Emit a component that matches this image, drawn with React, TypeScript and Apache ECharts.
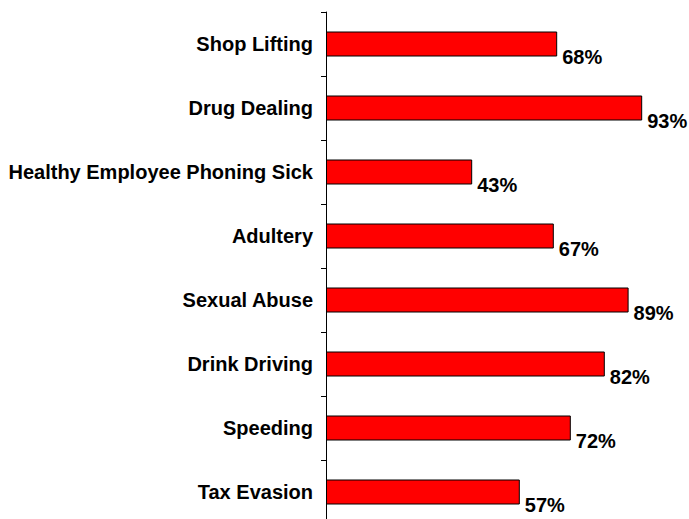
import React, { useEffect, useRef } from "react";
import * as echarts from "echarts";

const categories = [
  "Shop Lifting",
  "Drug Dealing",
  "Healthy Employee Phoning Sick",
  "Adultery",
  "Sexual Abuse",
  "Drink Driving",
  "Speeding",
  "Tax Evasion",
];
const values = [68, 93, 43, 67, 89, 82, 72, 57];

const FONT = '"Liberation Sans", Arial, sans-serif';

export default function App() {
  const ref = useRef<HTMLDivElement>(null);
  useEffect(() => {
    if (!ref.current) return;
    const chart = echarts.init(ref.current, null, { renderer: "svg" });
    chart.setOption({
      animation: false,
      backgroundColor: "#ffffff",
      grid: {
        left: 326,
        top: 12,
        width: 340,
        height: 512,
        containLabel: false,
        outerBoundsMode: "none",
      },
      xAxis: {
        type: "value",
        min: 0,
        max: 100,
        show: false,
      },
      yAxis: {
        type: "category",
        data: categories,
        inverse: true,
        axisLine: { show: true, lineStyle: { color: "#000", width: 1 } },
        axisTick: { show: true, length: 5, lineStyle: { color: "#000" } },
        axisLabel: {
          color: "#000",
          fontFamily: FONT,
          fontWeight: "bold",
          fontSize: 20,
          margin: 13,
          padding: [0, 0, 4, 0],
        },
        splitLine: { show: false },
      },
      series: [
        {
          type: "bar",
          data: values,
          barWidth: 25,
          itemStyle: { color: "#ff0000", borderColor: "#000", borderWidth: 1 },
          label: {
            show: true,
            position: "right",
            distance: 5,
            offset: [0, 13],
            formatter: "{c}%",
            color: "#000",
            fontFamily: FONT,
            fontWeight: "bold",
            fontSize: 20,
          },
        },
      ],
    });
    return () => chart.dispose();
  }, []);
  return (
    <div
      ref={ref}
      style={{ position: "fixed", left: 0, top: 0, width: 689, height: 519 }}
    />
  );
}
